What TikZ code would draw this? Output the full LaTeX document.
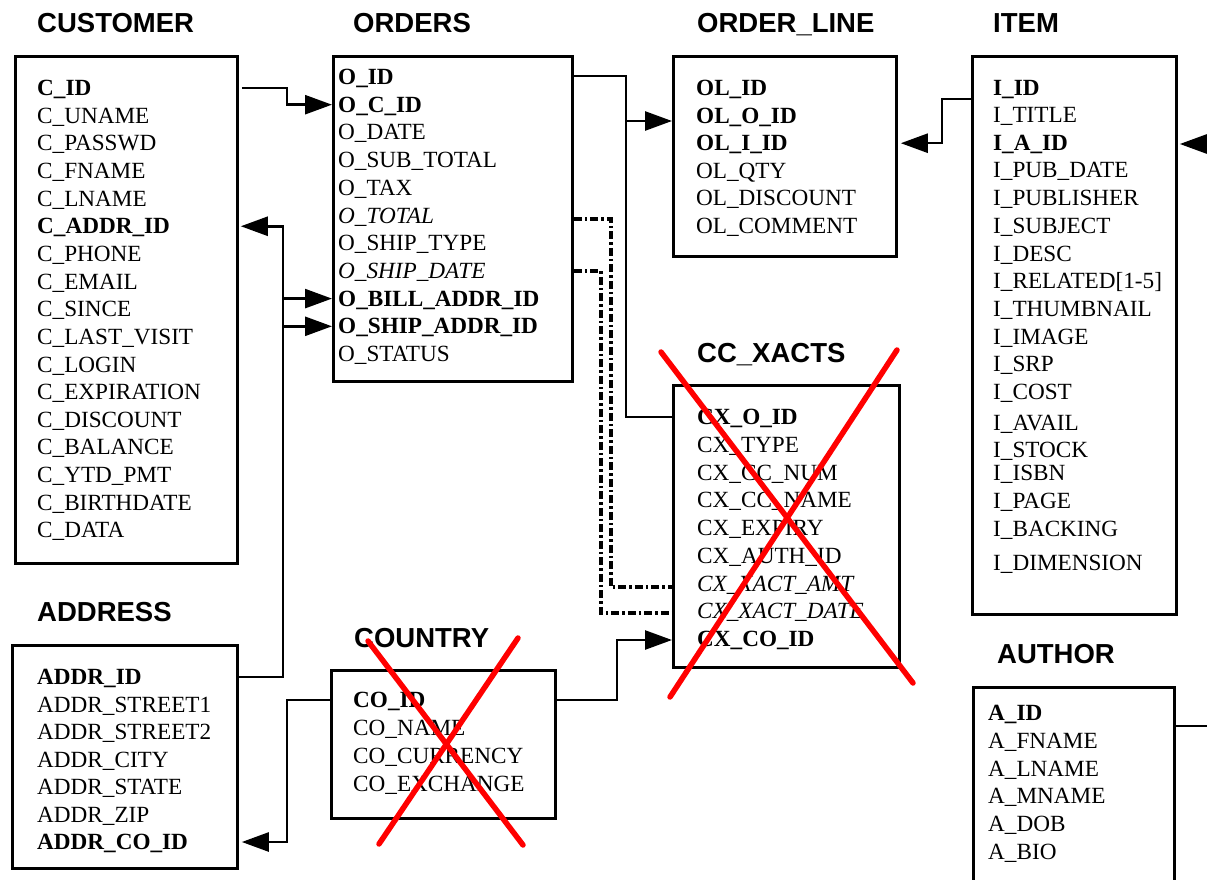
\documentclass[tikz,border=0pt]{standalone}
\usepackage{fontspec}
\setmainfont{Liberation Serif}
\newfontfamily\titlefont{Liberation Sans}
\usetikzlibrary{arrows.meta,calc}
\tikzset{
  tbl/.style={draw, line width=2.8pt, inner sep=0pt, rectangle, anchor=north west},
  row/.style={anchor=base west, inner sep=0pt, text height=15.5pt, text depth=0.5pt, font=\fontsize{23.2}{26}\selectfont},
  ttl/.style={anchor=base west, inner sep=0pt, font=\titlefont\bfseries\fontsize{27.5}{30}\selectfont},
  conn/.style={line width=2.6pt},
  arr/.style={conn, -{Triangle[length=27pt,width=19pt]}},
  dd/.style={line width=3.4pt, dash pattern=on 8pt off 3pt on 2.5pt off 3pt},
  cross/.style={red, line width=5.5pt, line cap=round},
}
\begin{document}
\begin{tikzpicture}[x=1pt,y=-1pt]
\useasboundingbox (0,0) rectangle (1207,880);
\clip (0,0) rectangle (1207,880);
% titles
\node[ttl] (tcust) at (37,33) {CUSTOMER};
\node[ttl] (tord) at (353,33) {ORDERS};
\node[ttl] (tol) at (697,33) {ORDER\_LINE};
\node[ttl] (titem) at (993,33) {ITEM};
\node[ttl] (tcc) at (697,362) {CC\_XACTS};
\node[ttl] (taddr) at (37,621) {ADDRESS};
\node[ttl] (tco) at (354,647) {COUNTRY};
\node[ttl] (tauth) at (997,663) {AUTHOR};
% boxes
\node[tbl, minimum width=222pt, minimum height=507pt] (cust) at (14,55) {};
\node[tbl, minimum width=239pt, minimum height=325pt] (ord) at (332,55) {};
\node[tbl, minimum width=223pt, minimum height=200pt] (ol) at (672,55) {};
\node[tbl, minimum width=204pt, minimum height=558pt] (item) at (971,55) {};
\node[tbl, minimum width=226pt, minimum height=282pt] (cc) at (672,384) {};
\node[tbl, minimum width=225pt, minimum height=223pt] (addr) at (11,644) {};
\node[tbl, minimum width=224pt, minimum height=148pt] (co) at (330,669) {};
\node[tbl, minimum width=201pt, minimum height=230pt] (auth) at (972,686) {};
% rows
\foreach \t [count=\i from 0] in {{\textbf{C\_ID}},C\_UNAME,C\_PASSWD,C\_FNAME,C\_LNAME,{\textbf{C\_ADDR\_ID}},C\_PHONE,C\_EMAIL,C\_SINCE,C\_LAST\_VISIT,C\_LOGIN,C\_EXPIRATION,C\_DISCOUNT,C\_BALANCE,C\_YTD\_PMT,C\_BIRTHDATE,C\_DATA}
  \node[row] (c\i) at (37,88+\i*27.65+7.5) {\t};
\foreach \t [count=\i from 0] in {{\textbf{O\_ID}},{\textbf{O\_C\_ID}},O\_DATE,O\_SUB\_TOTAL,O\_TAX,{\textit{O\_TOTAL}},O\_SHIP\_TYPE,{\textit{O\_SHIP\_DATE}},{\textbf{O\_BILL\_ADDR\_ID}},{\textbf{O\_SHIP\_ADDR\_ID}},O\_STATUS}
  \node[row] (o\i) at (338,77+\i*27.7+7.5) {\t};
\foreach \t [count=\i from 0] in {{\textbf{OL\_ID}},{\textbf{OL\_O\_ID}},{\textbf{OL\_I\_ID}},OL\_QTY,OL\_DISCOUNT,OL\_COMMENT}
  \node[row] (l\i) at (696,88+\i*27.6+7.5) {\t};
\foreach \t/\y [count=\i from 0] in {{\textbf{I\_ID}}/88,I\_TITLE/115,{\textbf{I\_A\_ID}}/143,I\_PUB\_DATE/170,I\_PUBLISHER/198,I\_SUBJECT/226,I\_DESC/254,{I\_RELATED[1-5]}/281,I\_THUMBNAIL/309,I\_IMAGE/337,I\_SRP/364,I\_COST/392,I\_AVAIL/423,I\_STOCK/450,I\_ISBN/473,I\_PAGE/501,I\_BACKING/529,I\_DIMENSION/563}
  \node[row] (i\i) at (993,\y+7.5) {\t};
\foreach \t [count=\i from 0] in {{\textbf{CX\_O\_ID}},CX\_TYPE,CX\_CC\_NUM,CX\_CC\_NAME,CX\_EXPIRY,CX\_AUTH\_ID,{\textit{CX\_XACT\_AMT}},{\textit{CX\_XACT\_DATE}},{\textbf{CX\_CO\_ID}}}
  \node[row] (x\i) at (697,417+\i*27.75+7.5) {\t};
\foreach \t [count=\i from 0] in {{\textbf{ADDR\_ID}},ADDR\_STREET1,ADDR\_STREET2,ADDR\_CITY,ADDR\_STATE,ADDR\_ZIP,{\textbf{ADDR\_CO\_ID}}}
  \node[row] (a\i) at (37,677+\i*27.5+7.5) {\t};
\foreach \t [count=\i from 0] in {{\textbf{CO\_ID}},CO\_NAME,CO\_CURRENCY,CO\_EXCHANGE}
  \node[row] (k\i) at (353,700+\i*28+7.5) {\t};
\foreach \t [count=\i from 0] in {{\textbf{A\_ID}},A\_FNAME,A\_LNAME,A\_MNAME,A\_DOB,A\_BIO}
  \node[row] (u\i) at (988,713+\i*27.8+7.5) {\t};
% connectors
\draw[arr] ([xshift=3pt]cust.east |- c0) -| (287,0 |- o1) -- (ord.west |- o1);
\draw[arr] (addr.east |- a0) -| (283,0 |- c5) -- ([xshift=2pt]cust.east |- c5);
\draw[arr] (283,0 |- o8) -- (ord.west |- o8);
\draw[arr] (283,0 |- o9) -- (ord.west |- o9);
\draw[conn] (ord.east |- 0,76) -| (626,0 |- x0) -- (cc.west |- x0);
\draw[arr] (626,121) -- (ol.west |- 0,121);
\draw[arr] (item.west |- 0,99) -| (942,0 |- l2) -- ([xshift=3pt]ol.east |- l2);
\coordinate (offA) at (1207,144);
\coordinate (offB) at (1207,726);
\draw[arr] (offA) -- ([xshift=2pt]item.east |- offA);
\draw[conn] (auth.east |- offB) -- (offB);
\draw[dd] (ord.east |- 0,219) -| (611,587) -- (cc.west |- 0,587);
\draw[dd] (ord.east |- 0,271) -| (601,613) -- (cc.west |- 0,613);
\draw[arr] (co.west |- k0) -| (287,0 |- a6) -- ([xshift=3pt]addr.east |- a6);
\draw[arr] (co.east |- k0) -| (617,640) -- (cc.west |- 0,640);
% crosses
\draw[cross] (661,352) -- (913,683);
\draw[cross] (897,350) -- (670,697);
\draw[cross] (368,641) -- (523,845);
\draw[cross] (518,638) -- (379,844);
\end{tikzpicture}
\end{document}
